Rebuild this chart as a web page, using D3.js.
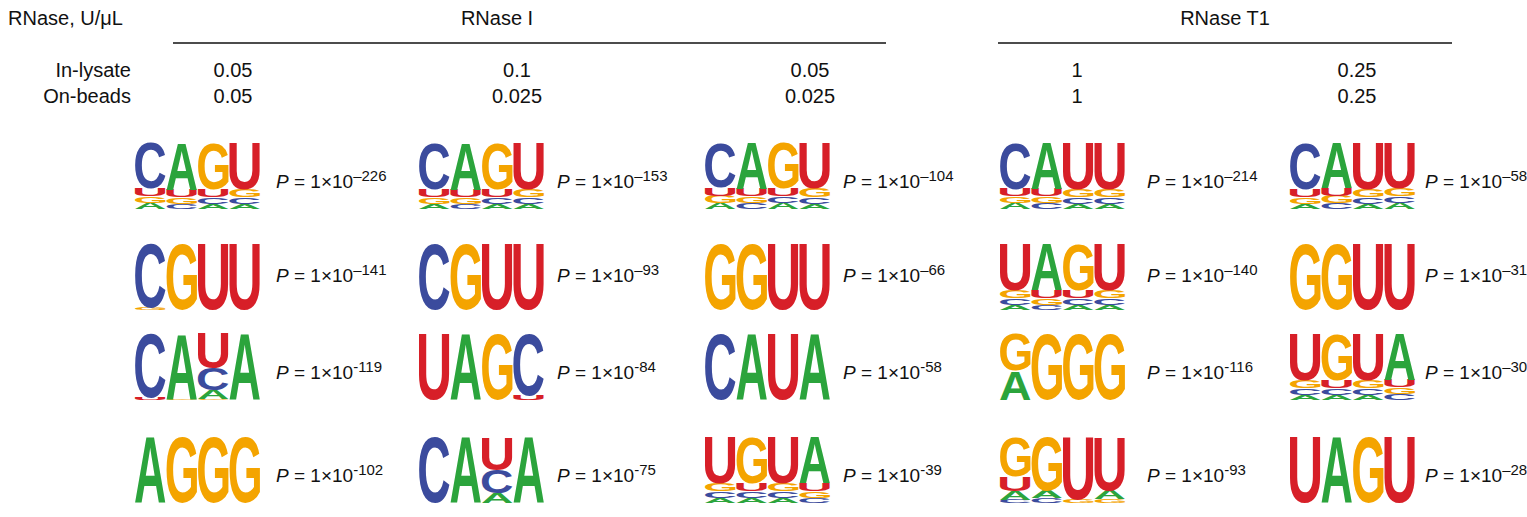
<!DOCTYPE html>
<html>
<head>
<meta charset="utf-8">
<script src="https://cdn.jsdelivr.net/npm/d3@7"></script>
<style>
  body { margin: 0; background: #fff; }
  text.label { font-family: "Liberation Sans", Arial, sans-serif; fill: #111; }
</style>
</head>
<body>
<svg id="chart" width="1527" height="517"></svg>
<script>
// nucleotide order used in every matrix below: A, C, G, U
const bases = ["A", "C", "G", "U"];
const baseColour = {A: "#2ba43c", C: "#3b4b9d", G: "#f4a400", U: "#d71f28"};

const groupNames = ["RNase I", "RNase T1"];
const inLysate = ["0.05", "0.1", "0.05", "1", "0.25"];
const onBeads = ["0.05", "0.025", "0.025", "1", "0.25"];

// probability matrices, one per logo: 4 positions x [A, C, G, U]
const row1Motifs = [
  [[.09, .69, .10, .12], [.71, .08, .10, .11], [.08, .10, .70, .12], [.08, .10, .12, .70]],
  [[.08, .70, .10, .12], [.71, .08, .10, .11], [.08, .10, .70, .12], [.08, .10, .12, .70]],
  [[.09, .68, .11, .12], [.70, .09, .10, .11], [.09, .10, .69, .12], [.08, .10, .13, .69]],
  [[.09, .70, .10, .11], [.70, .09, .10, .11], [.08, .10, .12, .70], [.08, .10, .12, .70]],
  [[.08, .70, .10, .12], [.68, .09, .11, .12], [.08, .10, .12, .70], [.09, .10, .12, .69]]
];
const row2Motifs = [
  [[0, .97, .03, 0], [0, 0, 1, 0], [0, 0, 0, 1], [0, 0, 0, 1]],
  [[0, 1, 0, 0], [0, 0, 1, 0], [0, 0, 0, 1], [0, 0, 0, 1]],
  [[0, 0, 1, 0], [0, 0, 1, 0], [0, 0, 0, 1], [0, 0, 0, 1]],
  [[.08, .10, .12, .70], [.70, .08, .10, .12], [.08, .10, .70, .12], [.08, .10, .12, .70]],
  [[0, 0, 1, 0], [0, 0, 1, 0], [0, 0, 0, 1], [0, 0, 0, 1]]
];
const row3Motifs = [
  [[0, .97, 0, .03], [.99, 0, .01, 0], [.13, .33, .02, .52], [1, 0, 0, 0]],
  [[0, 0, 0, 1], [1, 0, 0, 0], [0, 0, 1, 0], [0, .93, 0, .07]],
  [[0, 1, 0, 0], [1, 0, 0, 0], [0, 0, 0, 1], [1, 0, 0, 0]],
  [[.44, 0, .56, 0], [0, 0, 1, 0], [0, 0, 1, 0], [0, 0, 1, 0]],
  [[.08, .10, .12, .70], [.08, .10, .70, .12], [.08, .10, .12, .70], [.70, .09, .10, .11]]
];
const row4Motifs = [
  [[1, 0, 0, 0], [0, 0, 1, 0], [0, 0, 1, 0], [0, 0, 1, 0]],
  [[0, 1, 0, 0], [1, 0, 0, 0], [.15, .35, 0, .50], [1, 0, 0, 0]],
  [[.08, .10, .12, .70], [.08, .10, .70, .12], [.08, .10, .12, .70], [.70, .08, .10, .12]],
  [[.13, .05, .60, .22], [.12, .07, .81, 0], [0, 0, .05, .95], [.13, 0, .06, .81]],
  [[0, 0, 0, 1], [1, 0, 0, 0], [0, 0, 1, 0], [0, 0, 0, 1]]
];
const motifs = [row1Motifs, row2Motifs, row3Motifs, row4Motifs];

// P-value exponents as printed
const pExponents = [
  ["\u2013226", "\u2013153", "\u2013104", "\u2013214", "\u201358"],
  ["\u2013141", "\u201393", "\u201366", "\u2013140", "\u201331"],
  ["-119", "-84", "-58", "-116", "\u201330"],
  ["-102", "-75", "-39", "-93", "\u201328"]
];

const svg = d3.select("#chart");

// layout
const logoW = 125, logoH = 66;
const colX = d3.scaleOrdinal().domain(d3.range(5)).range([135, 419, 705, 1000, 1290]);
const rowTop = d3.scaleOrdinal().domain(d3.range(4)).range([143, 244, 334, 437]);
const pX = d3.scaleOrdinal().domain(d3.range(5)).range([276, 557, 843, 1147, 1425]);
const pBase = d3.scaleOrdinal().domain(d3.range(4)).range([188, 282, 379, 482]);
const headerX = d3.scaleOrdinal().domain(d3.range(5)).range([233, 517, 810, 1077, 1357]);

const pos = d3.scaleBand().domain([0, 1, 2, 3]).range([0, logoW]).paddingInner(0.03);
const y = d3.scaleLinear().domain([0, 1]).range([logoH, 0]);

const fs = 20;

// header
svg.append("text").attr("class", "label").attr("x", 8).attr("y", 25).attr("font-size", fs).text("RNase, U/\u03bcL");
svg.selectAll("text.group").data(groupNames).join("text")
  .attr("class", "label group")
  .attr("x", (d, i) => [497, 1225][i])
  .attr("y", 25)
  .attr("text-anchor", "middle")
  .attr("font-size", fs)
  .text(d => d);
svg.selectAll("line.group").data([[173, 886], [998, 1452]]).join("line")
  .attr("class", "group")
  .attr("x1", d => d[0]).attr("x2", d => d[1])
  .attr("y1", 43).attr("y2", 43)
  .attr("stroke", "#111").attr("stroke-width", 1.6);

svg.append("text").attr("class", "label").attr("x", 131).attr("y", 77).attr("text-anchor", "end").attr("font-size", fs).text("In-lysate");
svg.append("text").attr("class", "label").attr("x", 131).attr("y", 103).attr("text-anchor", "end").attr("font-size", fs).text("On-beads");
svg.selectAll("text.lys").data(inLysate).join("text")
  .attr("class", "label lys")
  .attr("x", (d, i) => headerX(i)).attr("y", 77)
  .attr("text-anchor", "middle").attr("font-size", fs).text(d => d);
svg.selectAll("text.bead").data(onBeads).join("text")
  .attr("class", "label bead")
  .attr("x", (d, i) => headerX(i)).attr("y", 103)
  .attr("text-anchor", "middle").attr("font-size", fs).text(d => d);

// tight glyph boxes so each letter can be stretched to its cell
const ctx = document.createElement("canvas").getContext("2d");
ctx.font = "bold 100px 'Liberation Sans', Arial, sans-serif";
const glyph = {};
bases.forEach(b => {
  const m = ctx.measureText(b);
  glyph[b] = {
    x0: -m.actualBoundingBoxLeft, x1: m.actualBoundingBoxRight,
    y0: -m.actualBoundingBoxAscent, y1: m.actualBoundingBoxDescent
  };
});

// flatten every stacked letter, smallest at the bottom
const letters = [];
motifs.forEach((row, r) => {
  row.forEach((mat, c) => {
    mat.forEach((probs, p) => {
      const stack = bases.map((b, k) => ({b: b, v: probs[k]}))
        .filter(d => d.v > 0.004)
        .sort((a, b) => a.v - b.v);
      let cum = 0;
      stack.forEach(d => {
        letters.push({row: r, col: c, pos: p, b: d.b, lo: cum, hi: cum + d.v});
        cum += d.v;
      });
    });
  });
});

svg.append("g").attr("class", "logos")
  .selectAll("text")
  .data(letters)
  .join("text")
  .style("font-family", "'Liberation Sans', Arial, sans-serif")
  .style("font-weight", "bold")
  .style("font-size", "100px")
  .style("fill", d => baseColour[d.b])
  .attr("transform", d => {
    const g = glyph[d.b];
    const x0 = colX(d.col) + pos(d.pos);
    const y0 = rowTop(d.row) + y(d.hi);
    const sx = pos.bandwidth() / (g.x1 - g.x0);
    const sy = (y(d.lo) - y(d.hi)) / (g.y1 - g.y0);
    return `translate(${x0},${y0}) scale(${sx},${sy}) translate(${-g.x0},${-g.y0})`;
  })
  .text(d => d.b);

// P-values
const pvals = [];
pExponents.forEach((row, r) => row.forEach((e, c) => pvals.push({row: r, col: c, e: e})));

const pt = svg.append("g").attr("class", "pvals")
  .selectAll("text")
  .data(pvals)
  .join("text")
  .attr("class", "label")
  .attr("x", d => pX(d.col))
  .attr("y", d => pBase(d.row))
  .attr("font-size", 19);
pt.append("tspan").attr("font-style", "italic").text("P");
pt.append("tspan").text(" = 1\u00d710");
pt.append("tspan").attr("dy", -7).attr("font-size", 15).text(d => d.e);
</script>
</body>
</html>
